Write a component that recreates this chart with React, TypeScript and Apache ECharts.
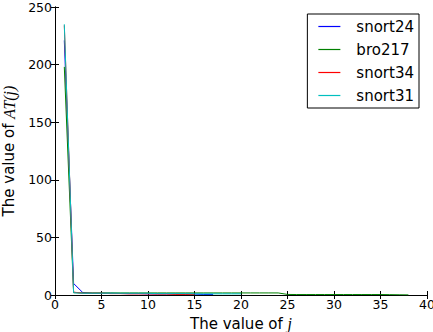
import React, { useEffect, useRef } from "react";
import * as echarts from "echarts";

const seriesNames = ["snort24", "bro217", "snort34", "snort31"];
const seriesColors = ["#0000ff", "#008000", "#ff0000", "#00bfbf"];

const snort24 = [221, 10, 2, 1.5, 1.5, 1.5, 1.3, 1.2, 1.2, 1, 1, 1, 1, 0.8, 0.8, 0.5, 0.5];
const bro217 = [198, 2, 1.8, 1.8, 1.8, 1.8, 1.8, 1.8, 1.8, 1.8, 1.8, 1.8, 1.8, 1.8, 1.8, 1.8, 1.8, 1.8, 1.8, 1.8, 1.8, 1.8, 1.8, 1.8, 0.5, 0.4, 0.4, 0.4, 0.4, 0.4, 0.4, 0.4, 0.4, 0.4, 0.4, 0.3, 0.2, 0.1];
const snort34 = [234, 2.5, 1.5, 1.5, 1.5, 1.2, 1.2, 1, 1, 1, 0.8, 0.8, 0.5, 0.5, 0.5];
const snort31 = [235, 2, 1.5, 1.5, 1.5, 1.5, 1.5, 1.5, 1.5, 1.5, 1.2, 1.2, 1.2, 1.2, 1, 1, 1, 1, 1, 1];

const xTicks = { min: 0, max: 40, interval: 5 };
const yTicks = { min: 0, max: 250, interval: 50 };

const allData = [snort24, bro217, snort34, snort31];

export default function App() {
  const ref = useRef<HTMLDivElement>(null);
  useEffect(() => {
    document.body.style.margin = "0";
    const chart = echarts.init(ref.current!, null, { renderer: "svg" });
    const font = "DejaVu Sans";
    const tickCommon = {
      axisLine: { show: true, lineStyle: { color: "#000", width: 1 } },
      axisTick: { show: true, inside: true, length: 4, lineStyle: { color: "#000" } },
      splitLine: { show: false },
    };
    const nameRich = {
      n: { fontSize: 15, fontFamily: font, color: "#000" },
      i: { fontSize: 16, fontFamily: "Liberation Serif", fontStyle: "italic", color: "#000" },
    };
    chart.setOption({
      animation: false,
      backgroundColor: "#fff",
      textStyle: { fontFamily: font },
      grid: { left: 55, right: 6, top: 7, bottom: 37, containLabel: false, outerBoundsMode: "none" },
      legend: {
        orient: "vertical",
        right: 14,
        top: 14,
        padding: [5, 5, 5, 11],
        itemWidth: 22,
        itemHeight: 1.2,
        itemGap: 8,
        borderColor: "#000",
        borderWidth: 1,
        borderRadius: 0,
        backgroundColor: "#fff",
        textStyle: { fontFamily: font, fontSize: 15, color: "#000", padding: [0, 0, 0, 11] },
        icon: "rect",
        data: seriesNames.map((n, k) => ({ name: n, itemStyle: { color: seriesColors[k] } })),
      },
      xAxis: [
        {
          type: "value",
          ...xTicks,
          ...tickCommon,
          axisLabel: { color: "#000", fontSize: 12.5, fontFamily: font, margin: 3 },
          name: "{n|The value of }{i|j}",
          nameLocation: "middle",
          nameGap: 17,
          nameTextStyle: { rich: nameRich },
        },
        {
          type: "value",
          position: "top",
          ...xTicks,
          ...tickCommon,
          axisLabel: { show: false },
        },
      ],
      yAxis: [
        {
          type: "value",
          ...yTicks,
          ...tickCommon,
          axisLabel: { color: "#000", fontSize: 12.5, fontFamily: font, margin: 3 },
          name: "{n|The value of }{i|AT(j)}",
          nameLocation: "middle",
          nameGap: 33,
          nameTextStyle: { rich: nameRich },
        },
        {
          type: "value",
          position: "right",
          ...yTicks,
          ...tickCommon,
          axisLabel: { show: false },
        },
      ],
      series: allData.map((d, k) => ({
        name: seriesNames[k],
        type: "line",
        data: d.map((v, i) => [i + 1, v]),
        showSymbol: false,
        symbol: "none",
        lineStyle: { width: 1, color: seriesColors[k] },
        itemStyle: { color: seriesColors[k] },
        xAxisIndex: 0,
        yAxisIndex: 0,
      })),
    });
    return () => chart.dispose();
  }, []);
  return <div ref={ref} style={{ width: 433, height: 332 }} />;
}
